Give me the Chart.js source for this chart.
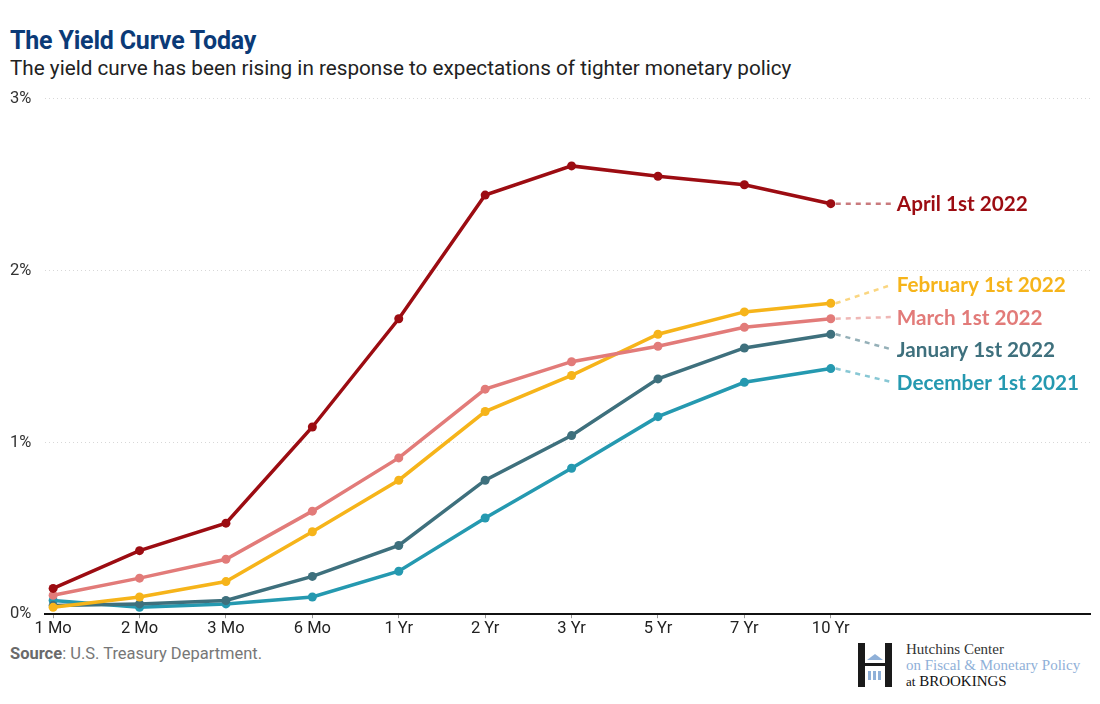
<!DOCTYPE html>
<html>
<head>
<meta charset="utf-8">
<script src="https://cdn.jsdelivr.net/npm/chart.js@4.4.1/dist/chart.umd.min.js"></script>
<style>
  body { margin: 0; width: 1100px; height: 704px; background: #fff; font-family: Roboto, sans-serif; position: relative; overflow: hidden; }
  #title { position: absolute; left: 10px; top: 26px; font-size: 25px; font-weight: 700; color: #0b3a77; letter-spacing: -0.2px; }
  #subtitle { position: absolute; left: 10px; top: 56px; font-size: 20.7px; color: #222; }
  #wrap { position: absolute; left: 0; top: 82px; width: 1100px; height: 558px; }
  #source { position: absolute; left: 10px; top: 644px; font-size: 16.5px; color: #777; }
  #source b { color: #6a6a6a; }
  #logo { position: absolute; left: 857px; top: 641px; width: 240px; height: 50px; }
  .hbar { position: absolute; top: 2px; width: 7px; height: 44px; background: #1a1a1a; }
  #logotext { position: absolute; left: 49px; top: 0; font-family: "Liberation Serif", "DejaVu Serif", serif; font-size: 15px; line-height: 16px; }
</style>
</head>
<body>
<div id="title">The Yield Curve Today</div>
<div id="subtitle">The yield curve has been rising in response to expectations of tighter monetary policy</div>
<div id="wrap"><canvas id="yieldChart"></canvas></div>
<div id="source"><b>Source</b>: U.S. Treasury Department.</div>
<div id="logo">
  <div class="hbar" style="left:1px"></div>
  <div class="hbar" style="left:28px"></div>
  <div style="position:absolute;left:8px;top:22px;width:20px;height:3px;background:#1a1a1a"></div>
  <div style="position:absolute;left:10px;top:13px;width:0;height:0;border-left:8px solid transparent;border-right:8px solid transparent;border-bottom:6px solid #8fb0d8"></div>
  <div style="position:absolute;left:11px;top:30px;width:3px;height:9px;background:#8fb0d8"></div>
  <div style="position:absolute;left:16px;top:30px;width:3px;height:9px;background:#8fb0d8"></div>
  <div style="position:absolute;left:21px;top:30px;width:3px;height:9px;background:#8fb0d8"></div>
  <div id="logotext">
    <div style="color:#333">Hutchins Center</div>
    <div style="color:#8fb0d8">on Fiscal &amp; Monetary Policy</div>
    <div style="color:#111"><span style="font-size:13px">at</span> BROOKINGS</div>
  </div>
</div>
<script>
// maturities on the x axis
const maturities = ['1 Mo', '2 Mo', '3 Mo', '6 Mo', '1 Yr', '2 Yr', '3 Yr', '5 Yr', '7 Yr', '10 Yr'];
const yTicks = [0, 1, 2, 3];

// yields in percent
const apr2022 = [0.15, 0.37, 0.53, 1.09, 1.72, 2.44, 2.61, 2.55, 2.50, 2.39];
const mar2022 = [0.11, 0.21, 0.32, 0.60, 0.91, 1.31, 1.47, 1.56, 1.67, 1.72];
const feb2022 = [0.04, 0.10, 0.19, 0.48, 0.78, 1.18, 1.39, 1.63, 1.76, 1.81];
const jan2022 = [0.05, 0.06, 0.08, 0.22, 0.40, 0.78, 1.04, 1.37, 1.55, 1.63];
const dec2021 = [0.08, 0.04, 0.06, 0.10, 0.25, 0.56, 0.85, 1.15, 1.35, 1.43];

const seriesNames = ['April 1st 2022', 'March 1st 2022', 'February 1st 2022', 'January 1st 2022', 'December 1st 2021'];
const seriesData = [apr2022, mar2022, feb2022, jan2022, dec2021];
const seriesColors = ['#9c0c12', '#e27b79', '#f6b41a', '#3e707d', '#2599b0'];
const dashColors = ['rgba(156,12,18,0.55)', 'rgba(226,123,121,0.55)', 'rgba(246,180,26,0.55)', 'rgba(62,112,125,0.55)', 'rgba(37,153,176,0.55)'];
// where each end label sits (in % units on the y axis)
const labelLevels = [2.39, 1.73, 1.92, 1.54, 1.35];

function toPoints(arr) {
    return arr.map((v, i) => ({ x: i, y: v }));
}

// dashed leaders + series names at the right end
const endLabels = {
    id: 'endLabels',
    afterDatasetsDraw(chart) {
        const c = chart.ctx;
        const ys = chart.scales.y;
        chart.data.datasets.forEach((ds, i) => {
            const meta = chart.getDatasetMeta(i);
            const pt = meta.data[meta.data.length - 1];
            const ey = ys.getPixelForValue(labelLevels[i]);
            const ex = pt.x + 62;
            c.save();
            c.strokeStyle = dashColors[i];
            c.lineWidth = 2.5;
            c.setLineDash([5, 5]);
            c.beginPath();
            c.moveTo(pt.x + 5, pt.y);
            c.lineTo(ex, ey);
            c.stroke();
            c.setLineDash([]);
            c.fillStyle = seriesColors[i];
            c.font = 'bold 20.7px Lato';
            c.textBaseline = 'middle';
            c.fillText(ds.label, ex + 4, ey + 1);
            c.restore();
        });
    }
};

const ctx = document.getElementById('yieldChart').getContext('2d');
const yieldChart = new Chart(ctx, {
    type: 'line',
    data: {
        datasets: seriesNames.map((name, i) => ({
            label: name,
            data: toPoints(seriesData[i]),
            borderColor: seriesColors[i],
            backgroundColor: seriesColors[i],
            borderWidth: 3.5,
            pointRadius: 4.5,
            pointHoverRadius: 4.5,
            pointBorderWidth: 0,
            tension: 0
        }))
    },
    options: {
        responsive: true,
        maintainAspectRatio: false,
        animation: false,
        layout: { padding: { left: 10, right: 10, top: 10, bottom: 0 } },
        plugins: {
            legend: { display: false },
            tooltip: { enabled: false }
        },
        scales: {
            x: {
                type: 'linear',
                min: -0.09,
                max: 12,
                ticks: {
                    stepSize: 1,
                    includeBounds: false,
                    autoSkip: false,
                    maxRotation: 0,
                    padding: 1,
                    color: '#222',
                    font: { family: 'Roboto', size: 16.5 },
                    callback: (v) => maturities[v] ?? ''
                },
                grid: {
                    drawOnChartArea: false,
                    tickLength: 4,
                    color: (c) => (c.tick && c.tick.value <= 9 ? '#999' : 'rgba(0,0,0,0)')
                },
                border: { display: true, color: '#111', width: 2 }
            },
            y: {
                min: 0,
                max: 3,
                afterBuildTicks: (axis) => { axis.ticks = yTicks.map(v => ({ value: v })); },
                ticks: {
                    crossAlign: 'far',
                    padding: 7,
                    color: '#333',
                    font: { family: 'Roboto', size: 16.5 },
                    callback: (v) => v + '%'
                },
                grid: { color: '#d8d8d8', lineWidth: 1, drawTicks: false },
                border: { display: false, dash: [1, 3] }
            }
        }
    },
    plugins: [endLabels]
});
</script>
</body>
</html>
